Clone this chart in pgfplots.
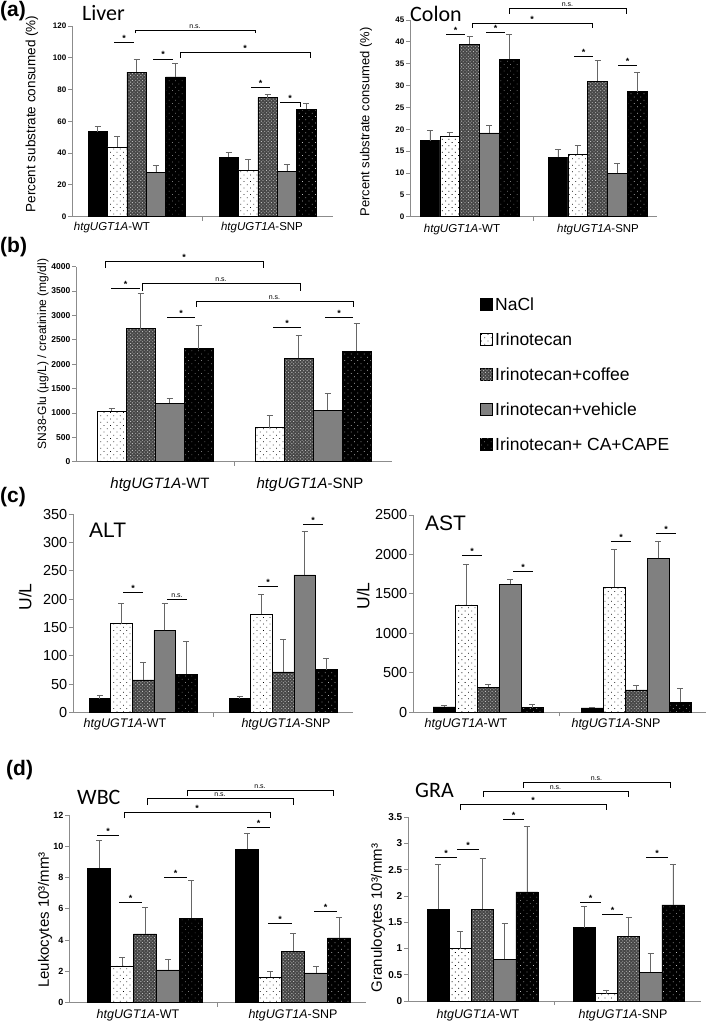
\documentclass[border=0pt]{standalone}
\usepackage{fontspec}
\setmainfont{Liberation Sans}
\newfontfamily\calfont{Carlito}
\usepackage{pgfplots}
\pgfplotsset{compat=1.18}
\usetikzlibrary{patterns.meta}
\newcommand\fs[1]{\fontsize{#1}{#1}\selectfont}
\tikzset{
 nacl/.style={fill=black},
 irino/.style={fill=white, postaction={pattern={Dots[distance=4.6pt, radius=0.55pt, angle=45]}, pattern color=black}},
 coffee/.style={fill=black!72, postaction={pattern={Dots[distance=2.4pt, radius=0.6pt, angle=45]}, pattern color=black!25}},
 vehicle/.style={fill=black!50},
 cape/.style={fill=black, postaction={pattern={Dots[distance=4.6pt, radius=0.45pt, angle=45]}, pattern color=black!25}},
 sigline/.style={black, line width=0.8pt},
 star/.style={font=\fs{9}\bfseries, anchor=south, inner sep=0.8pt},
 ns/.style={font=\fs{7}, anchor=south, inner sep=1.5pt},
}
\newcommand\sig[3]{\draw[sigline] (#1,#3) -- (#2,#3); \node[star] at ({(#1+#2)/2},#3) {*};}
\newcommand\signs[3]{\draw[sigline] (#1,#3) -- (#2,#3); \node[ns] at ({(#1+#2)/2},#3) {n.s.};}
\newcommand\brks[4]{\draw[sigline] (#1,#4) -- (#1,#3) -- (#2,#3) -- (#2,#4); \node[star] at ({(#1+#2)/2},#3) {*};}
\newcommand\brkns[4]{\draw[sigline] (#1,#4) -- (#1,#3) -- (#2,#3) -- (#2,#4); \node[ns] at ({(#1+#2)/2},#3) {n.s.};}
\pgfplotsset{
 panel/.style={scale only axis, anchor=south west, axis lines=left, axis line style={-, black!45, line width=0.9pt}, ymin=0, enlargelimits=false, clip=false, tick align=outside, major tick length=4pt, tick style={black!45, line width=0.9pt}, xticklabels={}, /pgf/number format/assume math mode=true, /pgf/number format/1000 sep={}, yticklabel style={inner sep=1.5pt}},
 mybar/.style={ybar, bar width=#1, bar shift=0pt, draw=black, line width=0.5pt, /pgfplots/error bars/y dir=plus, /pgfplots/error bars/y explicit, /pgfplots/error bars/error bar style={black!60, line width=0.7pt, solid}, /pgfplots/error bars/error mark options={black!60, line width=0.7pt, mark size=3pt, rotate=90}},
}
\begin{document}
\begin{tikzpicture}
\path[use as bounding box] (0,0) rectangle (709pt,-1024pt);
% ---------------- (a) Liver
\begin{axis}[panel, at={(72pt,-216.7pt)}, width=261pt, height=190.7pt, xmin=72, xmax=333, ymax=120, ytick={0,20,...,120}, xtick={202.5}, yticklabel style={font=\fs{8}\bfseries}]
\addplot[mybar=19.4, nacl] coordinates {(97.7,53.5) +- (0,3.5) (228.7,37.5) +- (0,2.8)};
\addplot[mybar=19.4, irino] coordinates {(117.1,44) +- (0,6.3) (248.1,29.5) +- (0,6.5)};
\addplot[mybar=19.4, coffee] coordinates {(136.5,91) +- (0,8) (267.5,75) +- (0,2)};
\addplot[mybar=19.4, vehicle] coordinates {(155.9,28) +- (0,4) (286.9,28.5) +- (0,4.5)};
\addplot[mybar=19.4, cape] coordinates {(175.3,88) +- (0,8.3) (306.3,67.5) +- (0,4)};
\end{axis}
% ---------------- (a) Colon
\begin{axis}[panel, at={(410pt,-216.7pt)}, width=247pt, height=196.7pt, xmin=410, xmax=657, ymax=45, ytick={0,5,...,45}, xtick={533.5}, yticklabel style={font=\fs{8}\bfseries}]
\addplot[mybar=19.8, nacl] coordinates {(429.9,17.4) +- (0,2.3) (557.9,13.6) +- (0,1.8)};
\addplot[mybar=19.8, irino] coordinates {(449.7,18.4) +- (0,1.0) (577.7,14.4) +- (0,2.0)};
\addplot[mybar=19.8, coffee] coordinates {(469.5,39.5) +- (0,1.7) (597.5,31) +- (0,4.8)};
\addplot[mybar=19.8, vehicle] coordinates {(489.3,19.2) +- (0,1.7) (617.3,9.9) +- (0,2.3)};
\addplot[mybar=19.8, cape] coordinates {(509.1,36) +- (0,5.7) (637.1,28.6) +- (0,4.4)};
\end{axis}
% ---------------- (b)
\begin{axis}[panel, at={(76pt,-461.7pt)}, width=316pt, height=195pt, xmin=76, xmax=392, ymax=4000, ytick={0,500,...,4000}, xtick={234}, yticklabel style={font=\fs{8.5}\bfseries}]
\addplot[mybar=29, irino] coordinates {(111.5,1040) +- (0,50) (269.5,700) +- (0,250)};
\addplot[mybar=29, coffee] coordinates {(140.5,2730) +- (0,730) (298.5,2120) +- (0,480)};
\addplot[mybar=29, vehicle] coordinates {(169.5,1200) +- (0,90) (327.5,1060) +- (0,340)};
\addplot[mybar=29, cape] coordinates {(198.5,2320) +- (0,480) (356.5,2270) +- (0,560)};
\end{axis}
% ---------------- (c) ALT
\begin{axis}[panel, at={(73pt,-712.7pt)}, width=280pt, height=198.7pt, xmin=73, xmax=353, ymax=350, ytick={0,50,...,350}, xtick={213}, yticklabel style={font=\fs{14.5}}]
\addplot[mybar=21.6, nacl] coordinates {(99.8,25) +- (0,5) (239.8,25) +- (0,3)};
\addplot[mybar=21.6, irino] coordinates {(121.4,157) +- (0,36) (261.4,173) +- (0,36)};
\addplot[mybar=21.6, coffee] coordinates {(143,58) +- (0,31) (283,72) +- (0,58)};
\addplot[mybar=21.6, vehicle] coordinates {(164.6,145) +- (0,48) (304.6,243) +- (0,77)};
\addplot[mybar=21.6, cape] coordinates {(186.2,68) +- (0,57) (326.2,76) +- (0,19)};
\end{axis}
% ---------------- (c) AST
\begin{axis}[panel, at={(413pt,-712.3pt)}, width=293pt, height=197.3pt, xmin=413, xmax=706, ymax=2500, ytick={0,500,...,2500}, xtick={559.5}, yticklabel style={font=\fs{14.5}}]
\addplot[mybar=22, nacl] coordinates {(444,70) +- (0,15) (592,55) +- (0,10)};
\addplot[mybar=22, irino] coordinates {(466,1360) +- (0,520) (614,1590) +- (0,475)};
\addplot[mybar=22, coffee] coordinates {(488,320) +- (0,35) (636,285) +- (0,60)};
\addplot[mybar=22, vehicle] coordinates {(510,1620) +- (0,60) (658,1950) +- (0,210)};
\addplot[mybar=22, cape] coordinates {(532,60) +- (0,35) (680,130) +- (0,170)};
\end{axis}
% ---------------- (d) WBC
\begin{axis}[panel, at={(69pt,-1002.7pt)}, width=297pt, height=187.7pt, xmin=69, xmax=366, ymax=12, ytick={0,2,...,12}, xtick={217.5}, yticklabel style={font=\fs{9}\bfseries}]
\addplot[mybar=23, nacl] coordinates {(99,8.6) +- (0,1.75) (247,9.8) +- (0,1.05)};
\addplot[mybar=23, irino] coordinates {(122,2.35) +- (0,0.55) (270,1.65) +- (0,0.35)};
\addplot[mybar=23, coffee] coordinates {(145,4.4) +- (0,1.7) (293,3.3) +- (0,1.15)};
\addplot[mybar=23, vehicle] coordinates {(168,2.1) +- (0,0.7) (316,1.9) +- (0,0.4)};
\addplot[mybar=23, cape] coordinates {(191,5.4) +- (0,2.4) (339,4.15) +- (0,1.3)};
\end{axis}
% ---------------- (d) GRA
\begin{axis}[panel, at={(408pt,-1001pt)}, width=293pt, height=183.7pt, xmin=408, xmax=701, ymax=3.5, ytick={0,0.5,...,3.5}, xtick={554.5}, yticklabel style={font=\fs{10}\bfseries}]
\addplot[mybar=22.2, nacl] coordinates {(438.1,1.75) +- (0,0.85) (584.1,1.4) +- (0,0.41)};
\addplot[mybar=22.2, irino] coordinates {(460.3,1.0) +- (0,0.32) (606.3,0.14) +- (0,0.07)};
\addplot[mybar=22.2, coffee] coordinates {(482.5,1.75) +- (0,0.96) (628.5,1.23) +- (0,0.36)};
\addplot[mybar=22.2, vehicle] coordinates {(504.7,0.8) +- (0,0.68) (650.7,0.55) +- (0,0.36)};
\addplot[mybar=22.2, cape] coordinates {(526.9,2.08) +- (0,1.24) (672.9,1.83) +- (0,0.78)};
\end{axis}

\begin{scope}[x=1pt, y=-1pt]
% panel letters
\node[anchor=west, font=\fs{21}\bfseries, inner sep=0] at (0,11) {(a)};
\node[anchor=west, font=\fs{21}\bfseries, inner sep=0] at (0,247) {(b)};
\node[anchor=west, font=\fs{21}\bfseries, inner sep=0] at (0,497) {(c)};
\node[anchor=west, font=\fs{21}\bfseries, inner sep=0] at (6,770) {(d)};
% titles
\node[anchor=west, font=\calfont\fs{22}, inner sep=0] at (82,13) {Liver};
\node[anchor=west, font=\calfont\fs{22}, inner sep=0] at (410,14) {Colon};
\node[anchor=west, font=\fs{21}, inner sep=0] at (89,530) {ALT};
\node[anchor=west, font=\fs{21}, inner sep=0] at (425,523) {AST};
\node[anchor=west, font=\calfont\fs{22}, inner sep=0] at (77,797) {WBC};
\node[anchor=west, font=\calfont\fs{22}, inner sep=0] at (415,790) {GRA};
% y labels
\node[rotate=90, font=\fs{13.5}] at (32,114) {Percent substrate consumed (\%)};
\node[rotate=90, font=\fs{13}] at (366,122) {Percent substrate consumed (\%)};
\node[rotate=90, font=\fs{12}] at (43,354) {SN38-Glu (µg/L) / creatinine (mg/dl)};
\node[rotate=90, font=\fs{17.5}] at (25,597) {U/L};
\node[rotate=90, font=\fs{17.5}] at (363,596) {U/L};
\node[rotate=90, font=\fs{15}] at (45,920) {Leukocytes 10³/mm³};
\node[rotate=90, font=\fs{15}] at (378,918) {Granulocytes 10³/mm³};
% x labels
\node[font=\fs{11.5}] at (112,228) {\textit{htgUGT1A}-WT};
\node[font=\fs{11.5}] at (262,228) {\textit{htgUGT1A}-SNP};
\node[font=\fs{11.5}] at (462,230) {\textit{htgUGT1A}-WT};
\node[font=\fs{11.5}] at (598,230) {\textit{htgUGT1A}-SNP};
\node[font=\fs{15}] at (160,485) {\textit{htgUGT1A}-WT};
\node[font=\fs{15}] at (310,485) {\textit{htgUGT1A}-SNP};
\node[font=\fs{12.5}] at (125,724) {\textit{htgUGT1A}-WT};
\node[font=\fs{12.5}] at (286,724) {\textit{htgUGT1A}-SNP};
\node[font=\fs{12.5}] at (466,724) {\textit{htgUGT1A}-WT};
\node[font=\fs{12.5}] at (616,724) {\textit{htgUGT1A}-SNP};
\node[font=\fs{12.5}] at (138,1015) {\textit{htgUGT1A}-WT};
\node[font=\fs{12.5}] at (293,1015) {\textit{htgUGT1A}-SNP};
\node[font=\fs{12.5}] at (478,1015) {\textit{htgUGT1A}-WT};
\node[font=\fs{12.5}] at (623,1015) {\textit{htgUGT1A}-SNP};
% legend
\draw[black, line width=0.5pt, nacl] (480,298) rectangle (492,310);
\draw[black, line width=0.5pt, irino] (480,333) rectangle (492,345);
\draw[black, line width=0.5pt, coffee] (480,368) rectangle (492,380);
\draw[black, line width=0.5pt, vehicle] (480,403) rectangle (492,415);
\draw[black, line width=0.5pt, cape] (480,438) rectangle (492,450);
\node[anchor=west, font=\fs{17.5}, inner sep=0] at (495,304) {NaCl};
\node[anchor=west, font=\fs{17.5}, inner sep=0] at (495,339) {Irinotecan};
\node[anchor=west, font=\fs{17.5}, inner sep=0] at (495,374) {Irinotecan+coffee};
\node[anchor=west, font=\fs{17.5}, inner sep=0] at (495,409) {Irinotecan+vehicle};
\node[anchor=west, font=\fs{17.5}, inner sep=0] at (495,444) {Irinotecan+ CA+CAPE};
% significance: Liver
\sig{114}{134}{42.7}
\brkns{135}{255}{30}{33.5}
\sig{153}{173}{59}
\brks{180}{310}{52.3}{58}
\sig{251}{270}{87.3}
\draw[sigline] (280,102.3) -- (300,102.3) -- (300,106.7); \node[star] at (290,102.3) {*};
% Colon
\sig{446}{465}{34.3}
\brks{472}{592}{23.3}{28}
\brkns{509}{626}{8.3}{14}
\sig{486}{505}{32.3}
\sig{574}{593}{56.7}
\sig{618}{637}{65.7}
% (b)
\brks{105}{263}{261.7}{268}
\sig{111}{140}{288}
\brkns{142}{300}{283}{291}
\sig{167}{195}{317}
\brkns{196}{353}{301}{307}
\sig{273}{301}{327}
\sig{325}{353}{317}
% ALT
\sig{123}{143}{592}
\signs{167}{187}{599}
\sig{258}{278}{586}
\sig{303}{323}{524}
% AST
\sig{462}{482}{555}
\sig{513}{533}{571}
\sig{611}{631}{541}
\sig{656}{676}{533}
% WBC
\sig{97}{119}{835}
\brks{124}{270}{812.7}{818}
\brkns{147}{293}{798}{805}
\brkns{187}{333}{790}{796}
\sig{119}{142}{902}
\sig{164}{187}{877}
\sig{247}{270}{827}
\sig{268}{292}{923}
\sig{314}{337}{911}
% GRA
\sig{435}{457}{857}
\sig{457}{479}{849}
\sig{503}{524}{819}
\brks{460}{606}{804}{810}
\brkns{483}{628}{791}{797}
\brkns{523}{670}{782}{788}
\sig{580}{601}{902}
\sig{602}{623}{914}
\sig{646}{668}{857}
\end{scope}
\end{tikzpicture}
\end{document}
